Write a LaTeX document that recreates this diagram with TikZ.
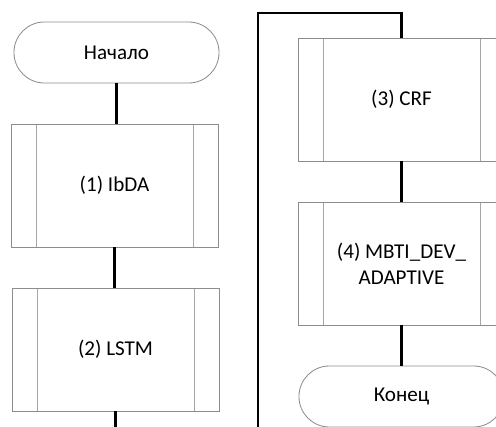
\documentclass[tikz,border=0pt]{standalone}
\usepackage{fontspec}
\setmainfont{Carlito}
\tikzset{
  term/.style={draw=black!45, line width=0.6pt, rounded corners=0.76cm,
    minimum width=5.125cm, minimum height=1.525cm, font=\fontsize{15}{18.5}\selectfont},
  proc/.style={draw=black!45, line width=0.6pt,
    minimum width=5.175cm, minimum height=3.075cm, align=center,
    font=\fontsize{15}{18.5}\selectfont,
    path picture={
      \draw[black!35, line width=0.5pt]
        ([xshift=0.625cm]path picture bounding box.north west) --
        ([xshift=0.625cm]path picture bounding box.south west);
      \draw[black!35, line width=0.5pt]
        ([xshift=-0.625cm]path picture bounding box.north east) --
        ([xshift=-0.625cm]path picture bounding box.south east);
    }},
  link/.style={line width=1.6pt}
}
\begin{document}
\begin{tikzpicture}[x=0.025cm,y=-0.025cm]
\useasboundingbox (0,0) rectangle (496,427);

\node[term] (start) at (116.5,52.5) {Начало};
\node[proc] (ibda) at (114.5,185.5) {(1) IbDA};
\node[proc] (lstm) at (115.5,349.5) {(2) LSTM};
\coordinate (down) at (115.5,427);

\coordinate (up) at (258,427);
\node[proc] (crf) at (401.5,99.5) {(3) CRF};
\node[proc] (mbti) at (401.5,263.5) {(4) MBTI\_DEV\_\\ADAPTIVE};
\node[term] (stop) at (401.5,396.5) {Конец};

\draw[link] (start) -- (start |- ibda.north);
\draw[link] (ibda) -- (ibda |- lstm.north);
\draw[link] (lstm) -- (down);
\draw[link] (up) -- (258,13) -| (crf.north);
\draw[link] (crf) -- (mbti);
\draw[link] (mbti) -- (stop);
\end{tikzpicture}
\end{document}
